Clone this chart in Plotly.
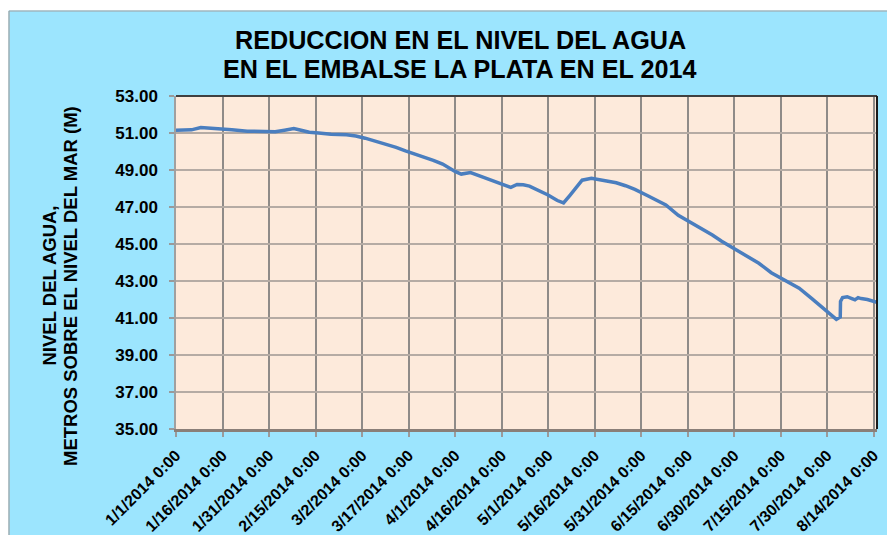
import plotly.graph_objects as go

# ---- data ----
dates = [
    "2014-01-01", "2014-01-04", "2014-01-06", "2014-01-09", "2014-01-12", "2014-01-15",
    "2014-01-19", "2014-01-24", "2014-01-29", "2014-02-02", "2014-02-05", "2014-02-08",
    "2014-02-10", "2014-02-13", "2014-02-16", "2014-02-20", "2014-02-25", "2014-02-28",
    "2014-03-03", "2014-03-06", "2014-03-10", "2014-03-13", "2014-03-16", "2014-03-19",
    "2014-03-22", "2014-03-25", "2014-03-28", "2014-03-30", "2014-04-01", "2014-04-03",
    "2014-04-06", "2014-04-10", "2014-04-13", "2014-04-16", "2014-04-19", "2014-04-21",
    "2014-04-23", "2014-04-25", "2014-04-28", "2014-05-01", "2014-05-04", "2014-05-06",
    "2014-05-08", "2014-05-10", "2014-05-12", "2014-05-15", "2014-05-19", "2014-05-23",
    "2014-05-26", "2014-05-29", "2014-06-02", "2014-06-05", "2014-06-08", "2014-06-12",
    "2014-06-16", "2014-06-20", "2014-06-23", "2014-06-26", "2014-06-30", "2014-07-04",
    "2014-07-08", "2014-07-12", "2014-07-16", "2014-07-21", "2014-07-25", "2014-07-29",
    "2014-08-02 00:00", "2014-08-03 06:00", "2014-08-03 08:00", "2014-08-04", "2014-08-05 12:00",
    "2014-08-07", "2014-08-08", "2014-08-09", "2014-08-10", "2014-08-12", "2014-08-13",
    "2014-08-14", "2014-08-15 02:00",
]
nivel = [
    51.15, 51.18, 51.17, 51.30, 51.27, 51.22,
    51.17, 51.10, 51.06, 51.07, 51.15, 51.24,
    51.16, 51.04, 51.00, 50.93, 50.90, 50.84,
    50.72, 50.58, 50.40, 50.22, 50.03, 49.87,
    49.70, 49.52, 49.32, 49.10, 48.92, 48.78,
    48.86, 48.62, 48.43, 48.24, 48.06, 48.22,
    48.20, 48.13, 47.90, 47.65, 47.35, 47.22,
    47.62, 48.05, 48.45, 48.55, 48.42, 48.31,
    48.15, 47.95, 47.62, 47.35, 47.11, 46.55,
    46.18, 45.80, 45.49, 45.15, 44.75, 44.35,
    43.96, 43.45, 43.10, 42.61, 42.06, 41.50,
    40.93, 41.05, 41.90, 42.10, 42.15,
    42.05, 41.98, 42.10, 42.05, 42.00, 41.95,
    41.88, 41.85,
]
tick_dates = [
    "2014-01-01", "2014-01-16", "2014-01-31", "2014-02-15", "2014-03-02", "2014-03-17",
    "2014-04-01", "2014-04-16", "2014-05-01", "2014-05-16", "2014-05-31", "2014-06-15",
    "2014-06-30", "2014-07-15", "2014-07-30", "2014-08-14",
]
tick_labels = [
    "1/1/2014 0:00", "1/16/2014 0:00", "1/31/2014 0:00", "2/15/2014 0:00", "3/2/2014 0:00",
    "3/17/2014 0:00", "4/1/2014 0:00", "4/16/2014 0:00", "5/1/2014 0:00", "5/16/2014 0:00",
    "5/31/2014 0:00", "6/15/2014 0:00", "6/30/2014 0:00", "7/15/2014 0:00", "7/30/2014 0:00",
    "8/14/2014 0:00",
]
y_ticks = [35, 37, 39, 41, 43, 45, 47, 49, 51, 53]
y_tick_labels = ["35.00", "37.00", "39.00", "41.00", "43.00", "45.00", "47.00", "49.00", "51.00", "53.00"]

title_lines = ["REDUCCION EN EL NIVEL DEL AGUA", "EN EL EMBALSE LA PLATA EN EL 2014"]
ytitle_lines = ["NIVEL DEL AGUA,", "METROS SOBRE EL NIVEL DEL MAR (M)"]

FONT = "Liberation Sans, Arial, sans-serif"
# the page body adds an 8px margin, so the figure is 8px smaller than the window
W, H = 887, 527
L, R, T, B = 168, 18, 88, 106
PW, PH = W - L - R, H - T - B


def px(x):
    return (x - L) / PW


def py(y):
    return (H - B - y) / PH


fig = go.Figure()
fig.add_trace(go.Scatter(
    x=dates, y=nivel, mode="lines",
    line=dict(color="#4A7EBF", width=3.5),
    hoverinfo="x+y", showlegend=False,
))

shapes = [
    # white strips outside the chart area (top and left)
    dict(type="rect", xref="paper", yref="paper", x0=px(-5), x1=px(W + 5), y0=py(2.5), y1=py(-5),
         fillcolor="white", line=dict(width=0), layer="above"),
    dict(type="rect", xref="paper", yref="paper", x0=px(-5), x1=px(0.5), y0=py(H + 5), y1=py(-5),
         fillcolor="white", line=dict(width=0), layer="above"),
    # chart-area border
    dict(type="line", xref="paper", yref="paper", x0=px(1), x1=px(W + 5), y0=py(3), y1=py(3),
         line=dict(color="#A0A0A0", width=1.2)),
    dict(type="line", xref="paper", yref="paper", x0=px(1), x1=px(1), y0=py(3), y1=py(H + 5),
         line=dict(color="#A0A0A0", width=1.2)),
    # plot-area top and right border
    dict(type="line", xref="paper", yref="paper", x0=0, x1=1, y0=1, y1=1,
         line=dict(color="#404040", width=2)),
    dict(type="line", xref="paper", yref="paper", x0=1, x1=1, y0=0, y1=1,
         line=dict(color="#1A1A1A", width=2)),
]

annotations = [
    dict(text="<b>" + title_lines[0] + "</b>", xref="paper", yref="paper",
         x=px(452), y=py(32.3), xanchor="center", yanchor="middle", showarrow=False,
         font=dict(family=FONT, size=25.2, color="black")),
    dict(text="<b>" + title_lines[1] + "</b>", xref="paper", yref="paper",
         x=px(452), y=py(60.8), xanchor="center", yanchor="middle", showarrow=False,
         font=dict(family=FONT, size=25.2, color="black")),
    dict(text="<b>" + ytitle_lines[0] + "</b>", xref="paper", yref="paper",
         x=px(40.5), y=py(278), xanchor="center", yanchor="middle", showarrow=False,
         textangle=-90, font=dict(family=FONT, size=18.5, color="black")),
    dict(text="<b>" + ytitle_lines[1] + "</b>", xref="paper", yref="paper",
         x=px(62), y=py(278), xanchor="center", yanchor="middle", showarrow=False,
         textangle=-90, font=dict(family=FONT, size=18.5, color="black")),
]

fig.update_layout(
    template="none",
    width=W, height=H, autosize=False,
    margin=dict(l=L, r=R, t=T, b=B, pad=0, autoexpand=False),
    paper_bgcolor="#9CE5FE",
    plot_bgcolor="#FDEADB",
    shapes=shapes,
    annotations=annotations,
    showlegend=False,
    xaxis=dict(
        type="date", automargin=False,
        range=["2014-01-01", "2014-08-15 02:30"],
        tickmode="array", tickvals=tick_dates, ticktext=tick_labels,
        tickangle=-45,
        tickfont=dict(family=FONT, size=16, color="black", weight="bold"),
        ticks="outside", ticklen=5, tickcolor="#9A9A9A", tickwidth=1.5,
        ticklabelstandoff=3,
        showgrid=True, gridcolor="#8F8B88", gridwidth=1.5,
        showline=True, linecolor="#8A7F78", linewidth=2.5,
        zeroline=False, fixedrange=True,
    ),
    yaxis=dict(
        automargin=False,
        range=[35, 53],
        tickmode="array", tickvals=y_ticks, ticktext=y_tick_labels,
        tickfont=dict(family=FONT, size=17, color="black", weight="bold"),
        ticks="outside", ticklen=5, tickcolor="#9A9A9A", tickwidth=1.5,
        ticklabelstandoff=8,
        showgrid=True, gridcolor="#B5ABA4", gridwidth=1.5,
        showline=True, linecolor="#A0A0A0", linewidth=1.5,
        zeroline=False, fixedrange=True,
    ),
)

fig.write_html("out.html")
